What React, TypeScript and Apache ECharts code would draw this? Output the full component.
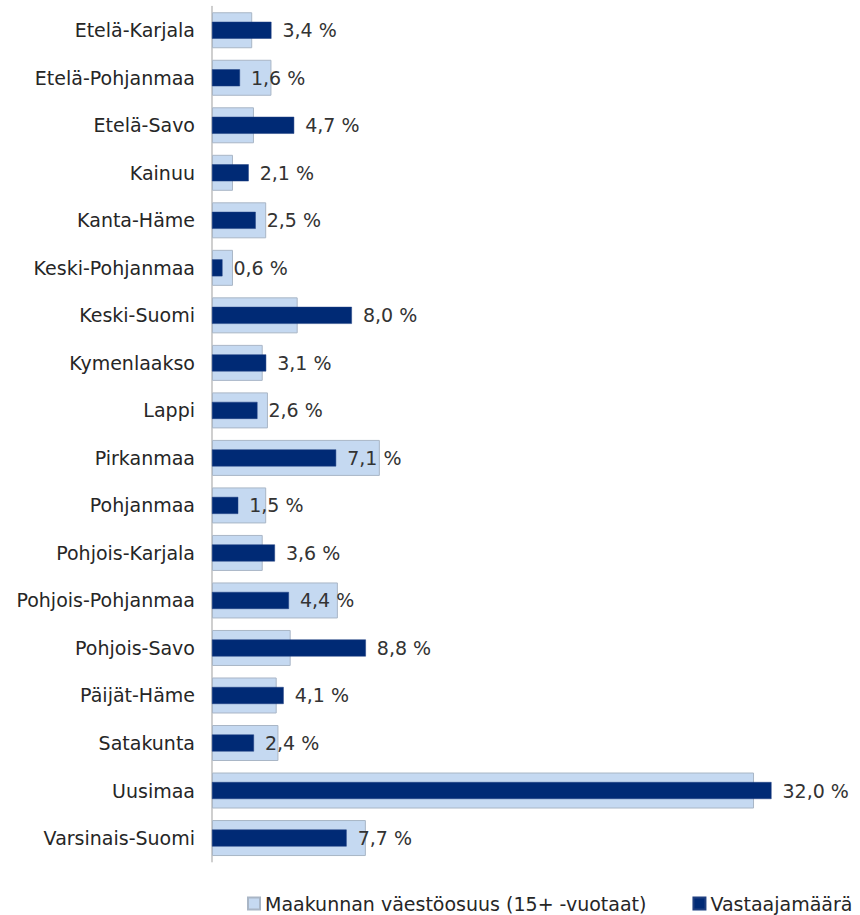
import React, { useEffect, useRef } from "react";
import * as echarts from "echarts";

const categories = [
  "Etelä-Karjala",
  "Etelä-Pohjanmaa",
  "Etelä-Savo",
  "Kainuu",
  "Kanta-Häme",
  "Keski-Pohjanmaa",
  "Keski-Suomi",
  "Kymenlaakso",
  "Lappi",
  "Pirkanmaa",
  "Pohjanmaa",
  "Pohjois-Karjala",
  "Pohjois-Pohjanmaa",
  "Pohjois-Savo",
  "Päijät-Häme",
  "Satakunta",
  "Uusimaa",
  "Varsinais-Suomi",
];

const populationShare = [2.3, 3.4, 2.4, 1.2, 3.1, 1.2, 4.9, 2.9, 3.2, 9.6, 3.1, 2.9, 7.2, 4.5, 3.7, 3.8, 31.0, 8.8];
const respondents = [3.4, 1.6, 4.7, 2.1, 2.5, 0.6, 8.0, 3.1, 2.6, 7.1, 1.5, 3.6, 4.4, 8.8, 4.1, 2.4, 32.0, 7.7];

const seriesNames = ["Maakunnan väestöosuus (15+ -vuotaat)", "Vastaajamäärä"];

const FONT = "DejaVu Sans, Verdana, sans-serif";
const FS = 19;

export default function App() {
  const ref = useRef<HTMLDivElement>(null);
  useEffect(() => {
    if (!ref.current) return;
    const chart = echarts.init(ref.current, null, { renderer: "svg" });
    chart.setOption({
      animation: false,
      backgroundColor: "#ffffff",
      textStyle: { fontFamily: FONT },
      grid: { left: 212, top: 6.5, width: 559.5, height: 855.3, containLabel: false },
      xAxis: {
        type: "value",
        min: 0,
        max: 32,
        show: false,
      },
      yAxis: [
        {
          type: "category",
          data: categories,
          inverse: true,
          axisLine: { show: true, lineStyle: { color: "#bfbfbf", width: 1.5 } },
          axisTick: { show: false },
          axisLabel: { color: "#262626", fontSize: FS, fontFamily: FONT, margin: 17 },
          splitLine: { show: false },
        },
        {
          type: "category",
          data: categories,
          inverse: true,
          show: false,
        },
      ],
      legend: {
        left: 247,
        top: 894,
        padding: 0,
        itemWidth: 12,
        itemHeight: 12,
        itemGap: 46,
        icon: "rect",
        textStyle: { color: "#262626", fontSize: FS, fontFamily: FONT },
        data: seriesNames,
      },
      series: [
        {
          name: seriesNames[0],
          type: "bar",
          yAxisIndex: 0,
          data: populationShare,
          barWidth: 36,
          itemStyle: { color: "#c5d9f1", borderColor: "#a9b6c6", borderWidth: 1 },
          label: { show: false },
        },
        {
          name: seriesNames[1],
          type: "bar",
          yAxisIndex: 1,
          data: respondents,
          barWidth: 17,
          itemStyle: { color: "#002a75", borderColor: "#1f3f80", borderWidth: 0.5 },
          label: {
            show: true,
            position: "right",
            distance: 11,
            color: "#333333",
            fontSize: FS,
            fontFamily: FONT,
            formatter: (p: any) => p.value.toFixed(1).replace(".", ",") + " %",
          },
        },
      ],
    });
    return () => chart.dispose();
  }, []);
  return (
    <div
      ref={ref}
      style={{ position: "fixed", left: 0, top: 0, width: 860, height: 915, background: "#fff" }}
    />
  );
}
